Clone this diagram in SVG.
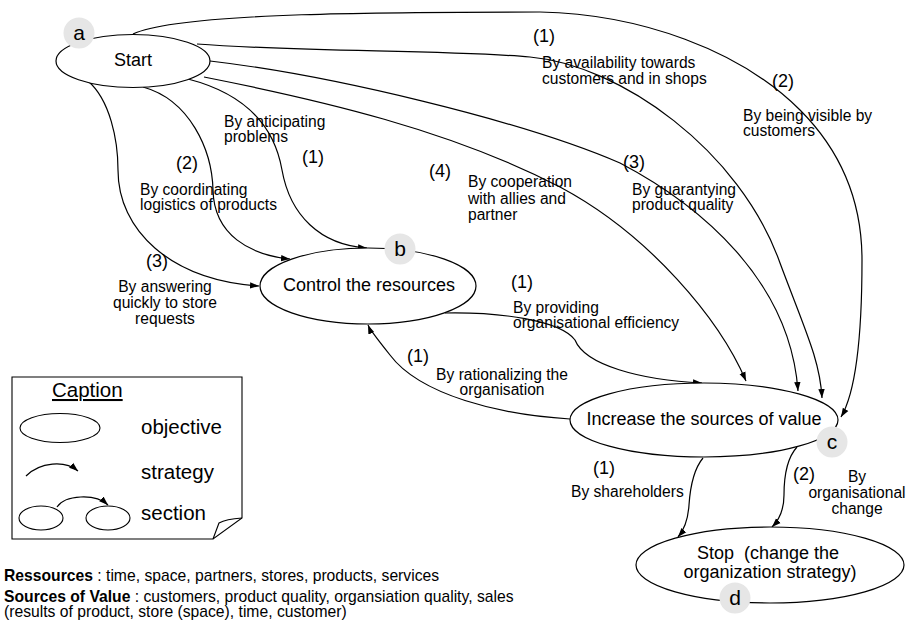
<svg xmlns="http://www.w3.org/2000/svg" width="907" height="629" viewBox="0 0 907 629">
<style>
text{font-family:"Liberation Sans",Arial,sans-serif;fill:#000}
.node{font-size:18px;text-anchor:middle}
.lbl{font-size:15.6px}
.num{font-size:18px}
.mid{text-anchor:middle}
.leg{font-size:20.5px}
.foot{font-size:15.7px}
.tag{font-size:21px;text-anchor:middle}
.shape{fill:#fff;stroke:#000;stroke-width:1.2}
.edge{fill:none;stroke:#000;stroke-width:1.2;marker-end:url(#ah)}
.badge{fill:#e6e6e6;stroke:none}
</style>
<defs>
<marker id="ah" markerWidth="10" markerHeight="8" refX="9" refY="4" orient="auto" markerUnits="userSpaceOnUse">
<path d="M0,0.8 L9,4 L0,7.2 z" fill="#000"/>
</marker>
</defs>
<rect width="907" height="629" fill="#fff"/>

<g id="connectors">
<path class="edge" d="M133,34 C180,12 400,12 540,12 C640,14 740,50 800,110 C840,150 862,200 862,260 C862,330 857,390 841,417"/>
<path class="edge" d="M197,44 C300,52 450,50 530,57 C620,65 740,150 780,263 C805,330 820,360 822,398"/>
<path class="edge" d="M210,61 C330,75 520,120 620,163 C700,205 790,280 798,391"/>
<path class="edge" d="M204,77 C320,100 450,130 560,187 C650,235 720,320 746,381"/>
<path class="edge" d="M88,81 C110,100 118,140 118,170 C118,230 170,280 259,286"/>
<path class="edge" d="M143,87 C190,100 212,150 213,190 C214,235 250,255 290,259"/>
<path class="edge" d="M188,79 C250,95 275,130 282,170 C290,215 320,245 367,248"/>
<path class="edge" d="M445,313 C500,312 560,320 575,340 C585,365 640,380 702,383"/>
<path class="edge" d="M570,419 C500,415 420,395 390,355 C378,340 370,330 368,325"/>
<path class="edge" d="M703,458 C693,470 690,490 689,505 C688,520 684,530 678,537"/>
<path class="edge" d="M797,447 C787,458 784,475 784,495 C784,510 779,520 772,527"/>
</g>

<g id="node-a">
<ellipse class="shape" cx="133" cy="61" rx="77" ry="26.5"/>
<text class="node" x="133" y="66">Start</text>
<circle class="badge" cx="79" cy="33" r="15.5"/>
<text class="tag" x="79" y="40">a</text>
</g>

<g id="node-b">
<ellipse class="shape" cx="368" cy="286" rx="108" ry="38"/>
<text class="node" x="369" y="291">Control the resources</text>
<circle class="badge" cx="400" cy="249" r="15.5"/>
<text class="tag" x="400" y="256">b</text>
</g>

<g id="node-c">
<ellipse class="shape" cx="704" cy="420" rx="134" ry="37"/>
<text class="node" x="704" y="425">Increase the sources of value</text>
<circle class="badge" cx="832" cy="442" r="15.5"/>
<text class="tag" x="832" y="449">c</text>
</g>

<g id="node-d">
<ellipse class="shape" cx="770" cy="565" rx="134" ry="38"/>
<text class="node" x="768" y="559" style="white-space:pre">Stop  (change the</text>
<text class="node" x="770" y="578">organization strategy)</text>
<circle class="badge" cx="735" cy="598" r="15.5"/>
<text class="tag" x="735" y="605">d</text>
</g>

<g id="labels">
<text class="num" x="533" y="42">(1)</text>
<text class="lbl" x="542" y="68">By availability towards</text>
<text class="lbl" x="542" y="84">customers and in shops</text>

<text class="num" x="772" y="87">(2)</text>
<text class="lbl" x="743" y="121">By being visible by</text>
<text class="lbl" x="743" y="136">customers</text>

<text class="num" x="623" y="168">(3)</text>
<text class="lbl" x="632" y="195">By guarantying</text>
<text class="lbl" x="632" y="210">product quality</text>

<text class="num" x="429" y="177">(4)</text>
<text class="lbl" x="468" y="187">By cooperation</text>
<text class="lbl" x="468" y="204">with allies and</text>
<text class="lbl" x="468" y="220">partner</text>

<text class="lbl" x="224" y="127">By anticipating</text>
<text class="lbl" x="224" y="142">problems</text>
<text class="num" x="302" y="163">(1)</text>

<text class="num" x="176" y="169">(2)</text>
<text class="lbl" x="140" y="195">By coordinating</text>
<text class="lbl" x="140" y="210">logistics of products</text>

<text class="num" x="146" y="267">(3)</text>
<text class="lbl mid" x="165" y="292">By answering</text>
<text class="lbl mid" x="165" y="308">quickly to store</text>
<text class="lbl mid" x="165" y="324">requests</text>

<text class="num" x="511" y="288">(1)</text>
<text class="lbl" x="513" y="313">By providing</text>
<text class="lbl" x="513" y="328">organisational efficiency</text>

<text class="num" x="407" y="362">(1)</text>
<text class="lbl mid" x="502" y="380">By rationalizing the</text>
<text class="lbl mid" x="502" y="395">organisation</text>

<text class="num" x="593" y="474">(1)</text>
<text class="lbl" x="571" y="497">By shareholders</text>

<text class="num" x="793" y="480">(2)</text>
<text class="lbl mid" x="857" y="482">By</text>
<text class="lbl mid" x="857" y="498">organisational</text>
<text class="lbl mid" x="857" y="514">change</text>
</g>

<g id="legend">
<path d="M12,377 H242 V518 L213,539 H12 Z" fill="#fff" stroke="#000" stroke-width="1.1"/>
<path d="M213,539 L219,523 Q226,519 242,518" fill="none" stroke="#000" stroke-width="1.1"/>
<text class="leg" x="52" y="397" text-decoration="underline">Caption</text>
<ellipse cx="60" cy="428" rx="40" ry="14.5" fill="none" stroke="#000" stroke-width="1.1"/>
<text class="leg" x="141" y="434">objective</text>
<path class="edge" d="M26,476 C40,462 65,460 78,471"/>
<text class="leg" x="141" y="479">strategy</text>
<ellipse cx="41" cy="518" rx="22" ry="12" fill="none" stroke="#000" stroke-width="1.1"/>
<ellipse cx="108" cy="518" rx="22" ry="12" fill="none" stroke="#000" stroke-width="1.1"/>
<path class="edge" d="M57,507 C65,495 95,493 108,505"/>
<text class="leg" x="141" y="520">section</text>
</g>

<g id="notes">
<text class="foot" x="4" y="581"><tspan font-weight="bold">Ressources</tspan> : time, space, partners, stores, products, services</text>
<text class="foot" x="4" y="602"><tspan font-weight="bold">Sources of Value</tspan> : customers, product quality, organsiation quality, sales</text>
<text class="foot" x="4" y="617">(results of product, store (space), time, customer)</text>
</g>
</svg>
